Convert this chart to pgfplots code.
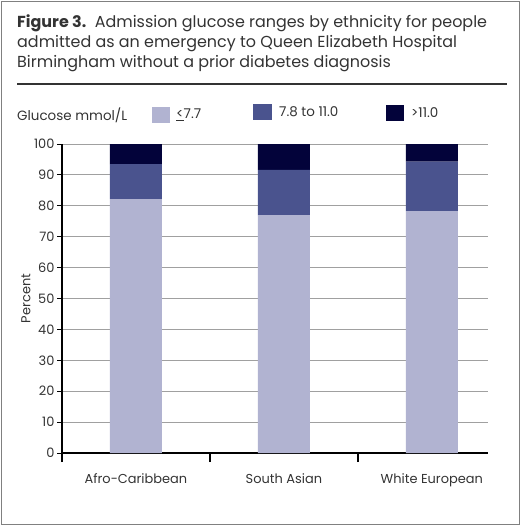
\documentclass[border=0pt]{standalone}
\usepackage{fontspec}
\setmainfont{Poppins}
\usepackage{pgfplots}
\pgfplotsset{compat=1.18}
\definecolor{glow}{HTML}{B1B3D1}
\definecolor{gmid}{HTML}{4A538E}
\definecolor{ghigh}{HTML}{03033A}
\definecolor{gridgray}{HTML}{A0A0A0}
\definecolor{framegray}{HTML}{808080}
\definecolor{txt}{HTML}{333333}

\begin{document}
\begin{tikzpicture}[x=1bp,y=1bp]
	\useasboundingbox (0,0) rectangle (521,-526);
	\draw[framegray,line width=1.5bp] (1.5,-1.5) rectangle (519.5,-524.5);

	% title
	\node[anchor=north west,inner sep=0pt,align=left,txt,
		font=\fontsize{16}{20}\selectfont] at (17,-15)
		{\textbf{Figure 3.}\ \ Admission glucose ranges by ethnicity for people\\
		admitted as an emergency to Queen Elizabeth Hospital\\
		Birmingham without a prior diabetes diagnosis};
	\draw[txt,line width=2bp] (17,-84) -- (507,-84);

	% legend
	\begin{scope}[font=\fontsize{13.5}{15}\selectfont]
		\node[anchor=west,inner sep=0pt,txt] at (17,-115) {Glucose mmol/L};
		\fill[glow] (152,-107) rectangle (170,-123);
		\node[anchor=west,inner sep=0pt,txt] at (176,-115) {\underline{<}7.7};
		\fill[gmid] (253,-104) rectangle (272,-120);
		\node[anchor=west,inner sep=0pt,txt] at (279,-112) {7.8 to 11.0};
		\fill[ghigh] (386,-105) rectangle (404,-121);
		\node[anchor=west,inner sep=0pt,txt] at (411,-113) {>11.0};
	\end{scope}

	\begin{axis}[
			at={(62bp,-453bp)}, anchor=south west,
			scale only axis,
			width=426bp, height=309bp,
			ybar stacked,
			bar width=52bp,
			xmin=-0.5, xmax=2.38,
			ymin=0, ymax=100,
			ytick={0,10,...,100},
			xtick={0,1,2},
			xticklabels={Afro-Caribbean,South Asian,White European},
			minor xtick={-0.5,0.5,1.5},
			major x tick style={draw=none},
			minor x tick style={line width=1.5bp,black},
			minor tick length=9bp,
			tick align=outside,
			tick pos=left,
			major tick length=5bp,
			y tick style={line width=1bp,black},
			axis x line*=bottom,
			axis y line*=left,
			axis line style={line width=1.5bp,black},
			ymajorgrids=true,
			grid style={gridgray,line width=1bp},
			ylabel={Percent},
			ylabel style={at={(axis description cs:0,0.5)},anchor=south,yshift=28bp,txt},
			/pgf/number format/assume math mode=true,
			ticklabel style={font=\fontsize{13}{15}\selectfont,txt},
			label style={font=\fontsize{13}{15}\selectfont},
			xticklabel style={yshift=-12bp},
			yticklabel style={xshift=1bp},
		]
		\addplot[fill=glow,draw=none] coordinates {(0,82.2) (1,77.0) (2,78.3)};
		\addplot[fill=gmid,draw=none] coordinates {(0,11.3) (1,14.6) (2,16.0)};
		\addplot[fill=ghigh,draw=none] coordinates {(0,6.5) (1,8.4) (2,5.7)};
	\end{axis}
\end{tikzpicture}
\end{document}
